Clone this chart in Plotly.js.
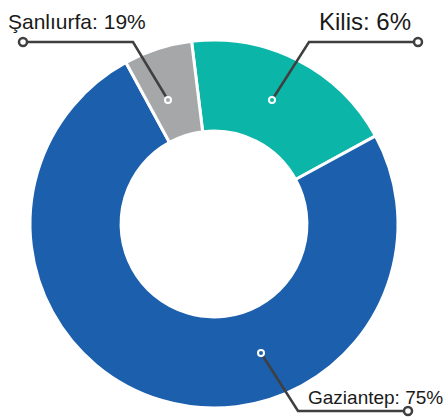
<!DOCTYPE html>
<html><head><meta charset="utf-8">
<script src="https://cdn.plot.ly/plotly-3.0.1.min.js"></script>
<style>html,body{margin:0;padding:0;background:#fff}#chart{width:446px;height:418px}</style>
</head><body><div id="chart"></div>
<script>
// Slices as drawn, clockwise from the top
const categories = ["Kilis", "Gaziantep", "Şanlıurfa"];
const values = [19, 75, 6];
// Percentages printed in the callout labels (as in the picture)
const labelPercents = [6, 75, 19];
const colors = ["#0bb5a7", "#1b5fad", "#a6a7a9"];

const W = 446, H = 418, M = {l: 30, r: 48, t: 40, b: 10, pad: 0};
const pw = W - M.l - M.r, ph = H - M.t - M.b;
const px = x => (x - M.l) / pw;
const py = y => (H - M.b - y) / ph;

// callout geometry (pixels)
const callouts = [
  {i: 0, dot: [272, 100], elbow: [309, 42], end: [418, 42], text: [317, 22], size: 24},
  {i: 1, dot: [261, 353], elbow: [298, 411], end: [408, 411], text: [306, 397], size: 19},
  {i: 2, dot: [168, 100], elbow: [133, 42], end: [23, 42], text: [6, 22], size: 21}
];

const lineColor = "#3f3f3f";
const shapes = [];
const annotations = [];
callouts.forEach(c => {
  shapes.push({
    type: "path", xref: "paper", yref: "paper",
    path: `M ${px(c.dot[0])} ${py(c.dot[1])} L ${px(c.elbow[0])} ${py(c.elbow[1])} L ${px(c.end[0])} ${py(c.end[1])}`,
    line: {color: lineColor, width: 2.5}
  });
  shapes.push({
    type: "circle", xref: "paper", yref: "paper", xsizemode: "pixel", ysizemode: "pixel",
    xanchor: px(c.dot[0]), yanchor: py(c.dot[1]), x0: -3, x1: 3, y0: -3, y1: 3,
    fillcolor: colors[c.i], line: {color: "#ffffff", width: 2}
  });
  shapes.push({
    type: "circle", xref: "paper", yref: "paper", xsizemode: "pixel", ysizemode: "pixel",
    xanchor: px(c.end[0]), yanchor: py(c.end[1]), x0: -4, x1: 4, y0: -4, y1: 4,
    fillcolor: "#ffffff", line: {color: lineColor, width: 2.5}
  });
  annotations.push({
    xref: "paper", yref: "paper", x: px(c.text[0]), y: py(c.text[1]),
    xanchor: "left", yanchor: "middle", showarrow: false,
    text: categories[c.i] + ": " + labelPercents[c.i] + "%",
    font: {family: "Liberation Sans, Arial, sans-serif", size: c.size, color: "#1a1a1a"}
  });
});

const data = [{
  type: "pie",
  labels: categories,
  values: values,
  sort: false,
  direction: "clockwise",
  rotation: -7,
  hole: 0.505,
  textinfo: "none",
  hoverinfo: "skip",
  marker: {colors: colors, line: {color: "#ffffff", width: 3}}
}];

const layout = {
  width: W, height: H,
  margin: M,
  showlegend: false,
  paper_bgcolor: "#ffffff",
  plot_bgcolor: "#ffffff",
  shapes: shapes,
  annotations: annotations
};

Plotly.newPlot("chart", data, layout, {displayModeBar: false, staticPlot: true});
</script>
</body></html>
